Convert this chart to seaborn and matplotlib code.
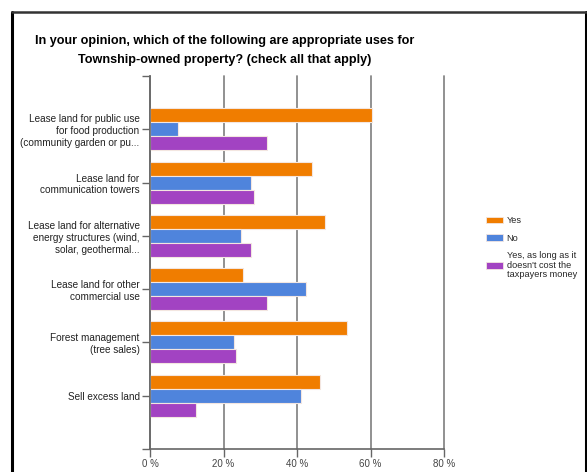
import matplotlib
matplotlib.use("Agg")
import matplotlib.pyplot as plt
import seaborn as sns
import pandas as pd
from matplotlib.lines import Line2D
from matplotlib.patches import Patch

categories = [
    "Lease land for public use\nfor food production\n(community garden or pu...",
    "Lease land for\ncommunication towers",
    "Lease land for alternative\nenergy structures (wind,\nsolar, geothermal...",
    "Lease land for other\ncommercial use",
    "Forest management\n(tree sales)",
    "Sell excess land",
]
series_names = ["Yes", "No", "Yes, as long as it\ndoesn't cost the\ntaxpayers money"]
yes_vals = [60.4, 44.0, 47.6, 25.3, 53.6, 46.2]
no_vals = [7.6, 27.5, 24.7, 42.4, 22.8, 41.1]
cond_vals = [31.8, 28.3, 27.5, 31.8, 23.4, 12.5]
x_ticks = [0, 20, 40, 60, 80]
x_tick_labels = ["0 %", "20 %", "40 %", "60 %", "80 %"]
title = "In your opinion, which of the following are appropriate uses for\nTownship-owned property? (check all that apply)"

colors = ["#F07D00", "#4F84DC", "#A243C2"]

rows = []
for vals, name in zip([yes_vals, no_vals, cond_vals], series_names):
    for c, v in zip(categories, vals):
        rows.append({"category": c, "series": name, "value": v})
df = pd.DataFrame(rows)

sns.set_style("white")
plt.rcParams["font.family"] = ["Liberation Sans", "DejaVu Sans"]

fig = plt.figure(figsize=(5.87, 4.72), dpi=100)
ax = fig.add_axes([150 / 587, 1 - 449 / 472, (444 - 150) / 587, (449 - 76) / 472])

sns.barplot(data=df, y="category", x="value", hue="series", order=categories,
            hue_order=series_names, palette=colors, saturation=1, orient="h", width=0.79,
            edgecolor="#f3e6e0", linewidth=0.8, ax=ax, legend=False)

ax.set_xlim(0, 80)
ax.set_ylim(6.0, -1.0)
ax.set_xticks(x_ticks)
ax.set_xticklabels(x_tick_labels, fontsize=7, color="#444444")
ax.set_yticks(range(len(categories)))
ax.set_yticklabels(categories, fontsize=7.2, color="#222222", linespacing=1.24)
ax.set_yticks([-1.0, 6.0], minor=True)
ax.tick_params(axis="y", which="both", length=6, width=1, color="#666666", pad=1.5, left=True)
ax.tick_params(axis="x", length=6, width=1, color="#666666", pad=1, bottom=True)
ax.set_xlabel("")
ax.set_ylabel("")

for s in ["top", "right"]:
    ax.spines[s].set_visible(False)
for s in ["left", "bottom"]:
    ax.spines[s].set_color("#666666")
    ax.spines[s].set_linewidth(1.2)

ax.grid(axis="x", color="#888888", linewidth=1.3)
ax.set_axisbelow(True)
for gl in ax.xaxis.get_gridlines():
    gl.set_clip_on(False)

# title
fig.text(225 / 587, 1 - 50.5 / 472, title, ha="center", va="center", fontsize=9.1,
         fontweight="bold", color="#000000", linespacing=1.85)

# legend
handles = [Patch(facecolor=c, edgecolor="#f3e6e0", linewidth=0.6) for c in colors]
leg = fig.legend(handles, series_names, loc="upper left",
                 bbox_to_anchor=(486 / 587, 1 - 216 / 472), bbox_transform=fig.transFigure,
                 frameon=False, fontsize=6.6, handlelength=1.85, handleheight=0.7,
                 handletextpad=0.4, labelspacing=0.95, borderpad=0, borderaxespad=0)
for t in leg.get_texts():
    t.set_linespacing(1.05)

# outer frame
fig.add_artist(Line2D([12 / 587, 12 / 587], [0, 1 - 12 / 472], transform=fig.transFigure,
                      color="black", linewidth=2.2))
fig.add_artist(Line2D([585.5 / 587, 585.5 / 587], [0, 1 - 12 / 472], transform=fig.transFigure,
                      color="black", linewidth=2.2))
fig.add_artist(Line2D([12 / 587, 585.5 / 587], [1 - 12 / 472, 1 - 12 / 472], transform=fig.transFigure,
                      color="#333333", linewidth=1.8))

fig.savefig("out.png", dpi=100)
